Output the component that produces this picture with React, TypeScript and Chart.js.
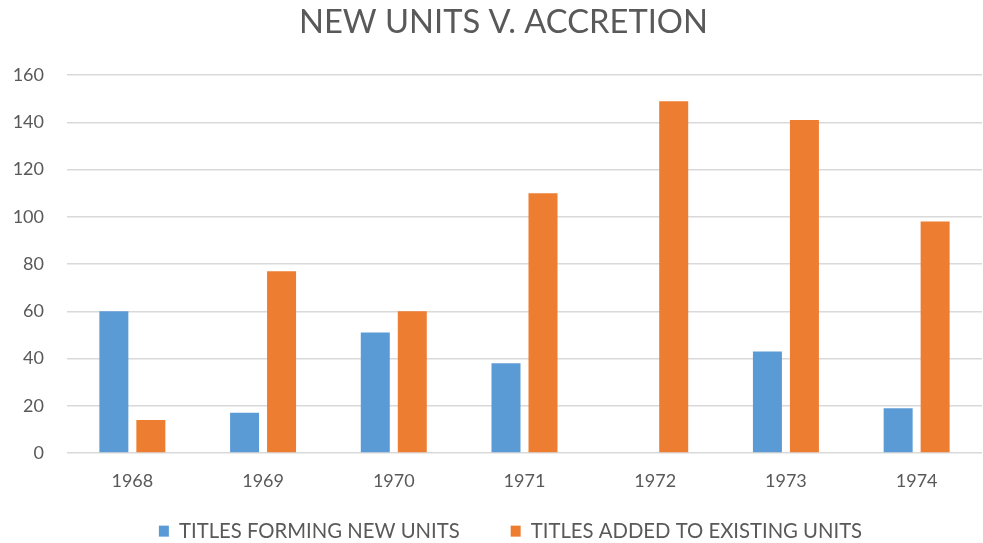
import React, { useEffect, useRef } from "react";
import { Chart, registerables } from "chart.js";

Chart.register(...registerables);

const years = ["1968", "1969", "1970", "1971", "1972", "1973", "1974"];
const newUnits = [60, 17, 51, 38, 0, 43, 19];
const addedToExisting = [14, 77, 60, 110, 149, 141, 98];
const yTicks = [0, 20, 40, 60, 80, 100, 120, 140, 160];

const FONT = "Lato, 'Open Sans', sans-serif";
const TEXT = "#595959";

const layoutTweak = {
  id: "layoutTweak",
  afterInit(chart: any) {
    const leg = chart.legend;
    if (!leg) return;
    const origFit = leg.fit.bind(leg);
    leg.fit = function () {
      origFit();
      this.height = 40;
    };
  },
  beforeDraw(chart: any) {
    const leg = chart.legend;
    if (leg) {
      leg.top = 470;
      leg.left = 38;
      leg.right = chart.width;
    }
    const t = chart.titleBlock;
    if (t) {
      t.left = 24;
      t.right = chart.width;
    }
  },
};

export default function App() {
  const ref = useRef<HTMLCanvasElement | null>(null);
  useEffect(() => {
    document.body.style.margin = "0";
    const ctx = ref.current!;
    const chart = new Chart(ctx, {
      type: "bar",
      data: {
        labels: years,
        datasets: [
          {
            label: "TITLES FORMING NEW UNITS",
            data: newUnits,
            backgroundColor: "#5b9bd5",
            categoryPercentage: 0.566,
            barPercentage: 0.784,
          },
          {
            label: "TITLES ADDED TO EXISTING UNITS",
            data: addedToExisting,
            backgroundColor: "#ed7d31",
            categoryPercentage: 0.566,
            barPercentage: 0.784,
          },
        ],
      },
      plugins: [layoutTweak],
      options: {
        animation: false,
        responsive: false,
        maintainAspectRatio: false,
        layout: { padding: { left: 0, right: 1, top: 3, bottom: 0 } },
        plugins: {
          title: {
            display: true,
            text: "NEW UNITS V. ACCRETION",
            color: TEXT,
            font: { family: FONT, size: 32.7, weight: "normal" },
            padding: { top: 0, bottom: 33 },
          },
          legend: {
            position: "bottom",
            labels: {
              color: TEXT,
              font: { family: FONT, size: 20.3 },
              boxWidth: 10,
              boxHeight: 11,
              padding: 51,
              useBorderRadius: false,
            },
          },
          tooltip: { enabled: false },
        },
        scales: {
          x: {
            grid: { display: false },
            border: { display: false },
            ticks: {
              color: TEXT,
              font: { family: FONT, size: 18 },
              padding: 9,
            },
            afterFit: (s: any) => {
              s.height = 50;
            },
          },
          y: {
            min: 0,
            max: 160,
            afterBuildTicks: (s: any) => {
              s.ticks = yTicks.map((v) => ({ value: v }));
            },
            grid: { color: "#d9d9d9", lineWidth: 1.6, drawTicks: false },
            border: { display: false },
            ticks: {
              color: TEXT,
              font: { family: FONT, size: 18 },
              padding: 23,
            },
            afterFit: (s: any) => {
              s.width = 67;
            },
          },
        },
      },
    });
    return () => chart.destroy();
  }, []);
  return (
    <div style={{ width: 983, height: 543 }}>
      <canvas ref={ref} width={983} height={543} />
    </div>
  );
}
